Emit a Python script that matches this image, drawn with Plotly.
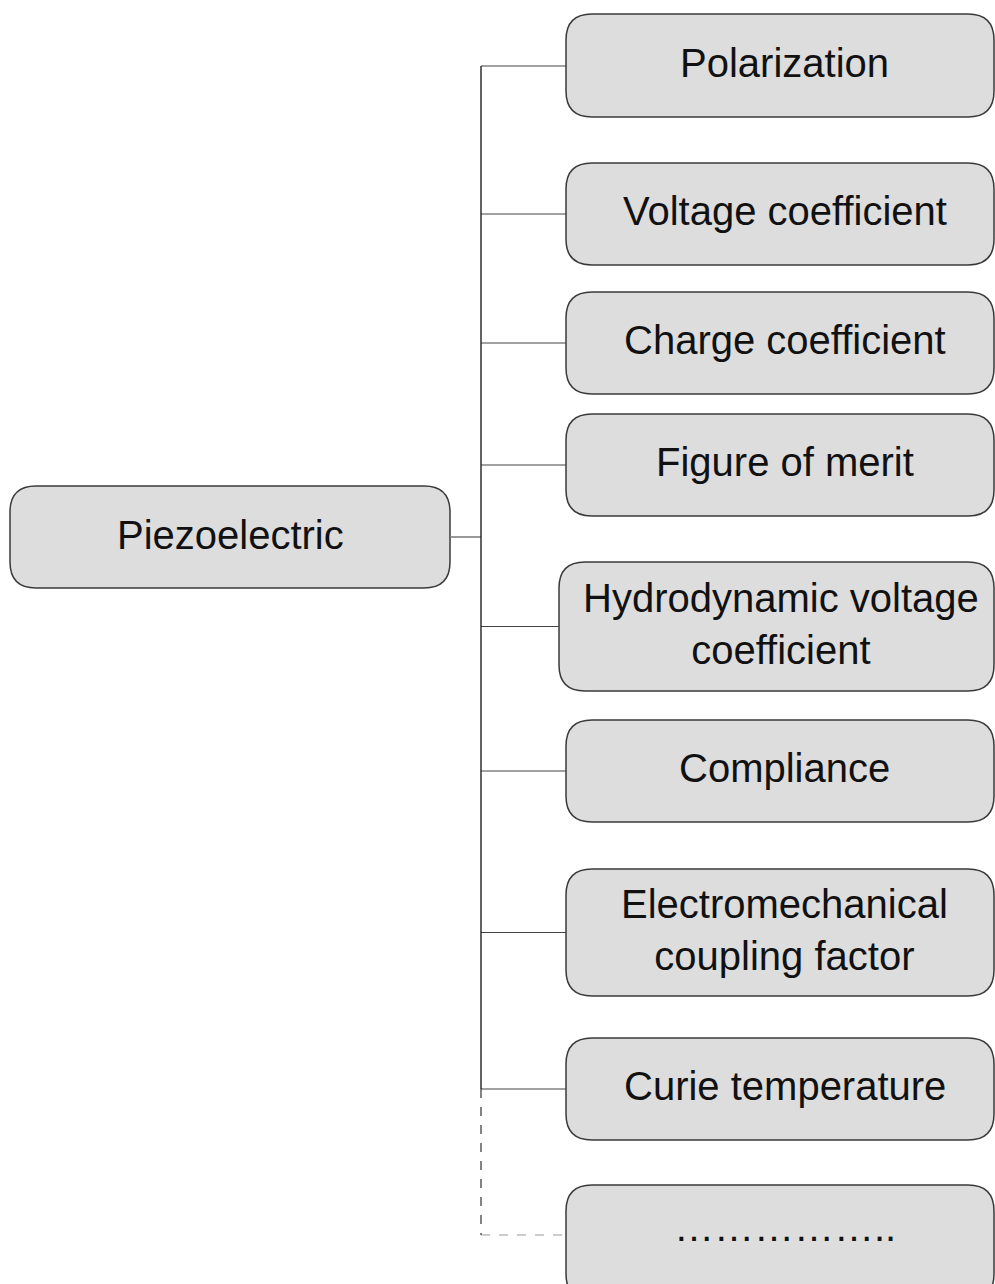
import plotly.graph_objects as go

# ---- data ----
root_label = "Piezoelectric"
child_labels = [
    "Polarization",
    "Voltage coefficient",
    "Charge coefficient",
    "Figure of merit",
    "Hydrodynamic voltage<br>coefficient",
    "Compliance",
    "Electromechanical<br>coupling factor",
    "Curie temperature",
    "……………..",
]
child_dashed = [False, False, False, False, False, False, False, False, True]

# ---- layout geometry (page pixels) ----
W, H = 995, 1284
child_tops = [14, 163, 292, 414, 562, 720, 869, 1038, 1185]
child_bottoms = [117, 265, 394, 516, 691, 822, 996, 1140, 1300]
child_lefts = [566, 566, 566, 566, 559, 566, 566, 566, 566]
child_right = 994
root_box = (10, 486, 450, 588)
trunk_x = 481
R = 26
FILL = "#dddddd"
EDGE = "#3a3a3a"
FONT = dict(family="Arial, Liberation Sans, sans-serif", size=40, color="#111111")


def rrect(x0, y0, x1, y1, r):
    return (f"M {x0+r},{y0} L {x1-r},{y0} Q {x1},{y0} {x1},{y0+r} "
            f"L {x1},{y1-r} Q {x1},{y1} {x1-r},{y1} L {x0+r},{y1} "
            f"Q {x0},{y1} {x0},{y1-r} L {x0},{y0+r} Q {x0},{y0} {x0+r},{y0} Z")


shapes = []
annotations = []

# root box
rx0, ry0, rx1, ry1 = root_box
rcy = (ry0 + ry1) / 2
shapes.append(dict(type="path", path=rrect(rx0, ry0, rx1, ry1, R),
                   fillcolor=FILL, line=dict(color=EDGE, width=1.5), layer="above"))
annotations.append(dict(x=(rx0 + rx1) / 2, y=rcy - 2, text=root_label, showarrow=False,
                        font=FONT, xref="x", yref="y"))
shapes.append(dict(type="line", x0=rx1, y0=rcy, x1=trunk_x, y1=rcy,
                   line=dict(color="#777777", width=1.5)))

centers = []
for lab, top, bot, left, dashed in zip(child_labels, child_tops, child_bottoms,
                                       child_lefts, child_dashed):
    cy = (top + bot) / 2 if not dashed else 1235
    if lab.startswith("Polar"):
        cy = 66
    centers.append(cy)
    shapes.append(dict(type="path", path=rrect(left, top, child_right, bot, R),
                       fillcolor=FILL, line=dict(color=EDGE, width=1.5), layer="above"))
    shapes.append(dict(type="line", x0=trunk_x, y0=cy, x1=left, y1=cy,
                       line=dict(color="#999999" if dashed else "#444444", width=1.2,
                                 dash="dash" if dashed else "solid")))
    ty = cy - 3 if not dashed else cy - 8
    annotations.append(dict(x=(left + child_right) / 2 + 4.5, y=ty, text=lab, showarrow=False,
                            font=FONT, xref="x", yref="y"))

# trunk
solid_end = centers[-2]
shapes.append(dict(type="line", x0=trunk_x, y0=centers[0], x1=trunk_x, y1=solid_end,
                   line=dict(color="#222222", width=1.4)))
shapes.append(dict(type="line", x0=trunk_x, y0=solid_end, x1=trunk_x, y1=centers[-1],
                   line=dict(color="#333333", width=1.2, dash="dash")))

fig = go.Figure()
fig.add_trace(go.Scatter(x=[0, W], y=[0, H], mode="markers",
                         marker=dict(opacity=0), hoverinfo="skip", showlegend=False))
fig.update_layout(
    width=W, height=H,
    margin=dict(l=0, r=0, t=0, b=0),
    paper_bgcolor="white", plot_bgcolor="white",
    xaxis=dict(range=[0, W], visible=False, fixedrange=True),
    yaxis=dict(range=[H, 0], visible=False, fixedrange=True),
    shapes=shapes, annotations=annotations, showlegend=False,
)
fig.write_html("out.html", config={"displayModeBar": False},
               post_script="document.body.style.margin='0';document.body.style.overflow='hidden';")
